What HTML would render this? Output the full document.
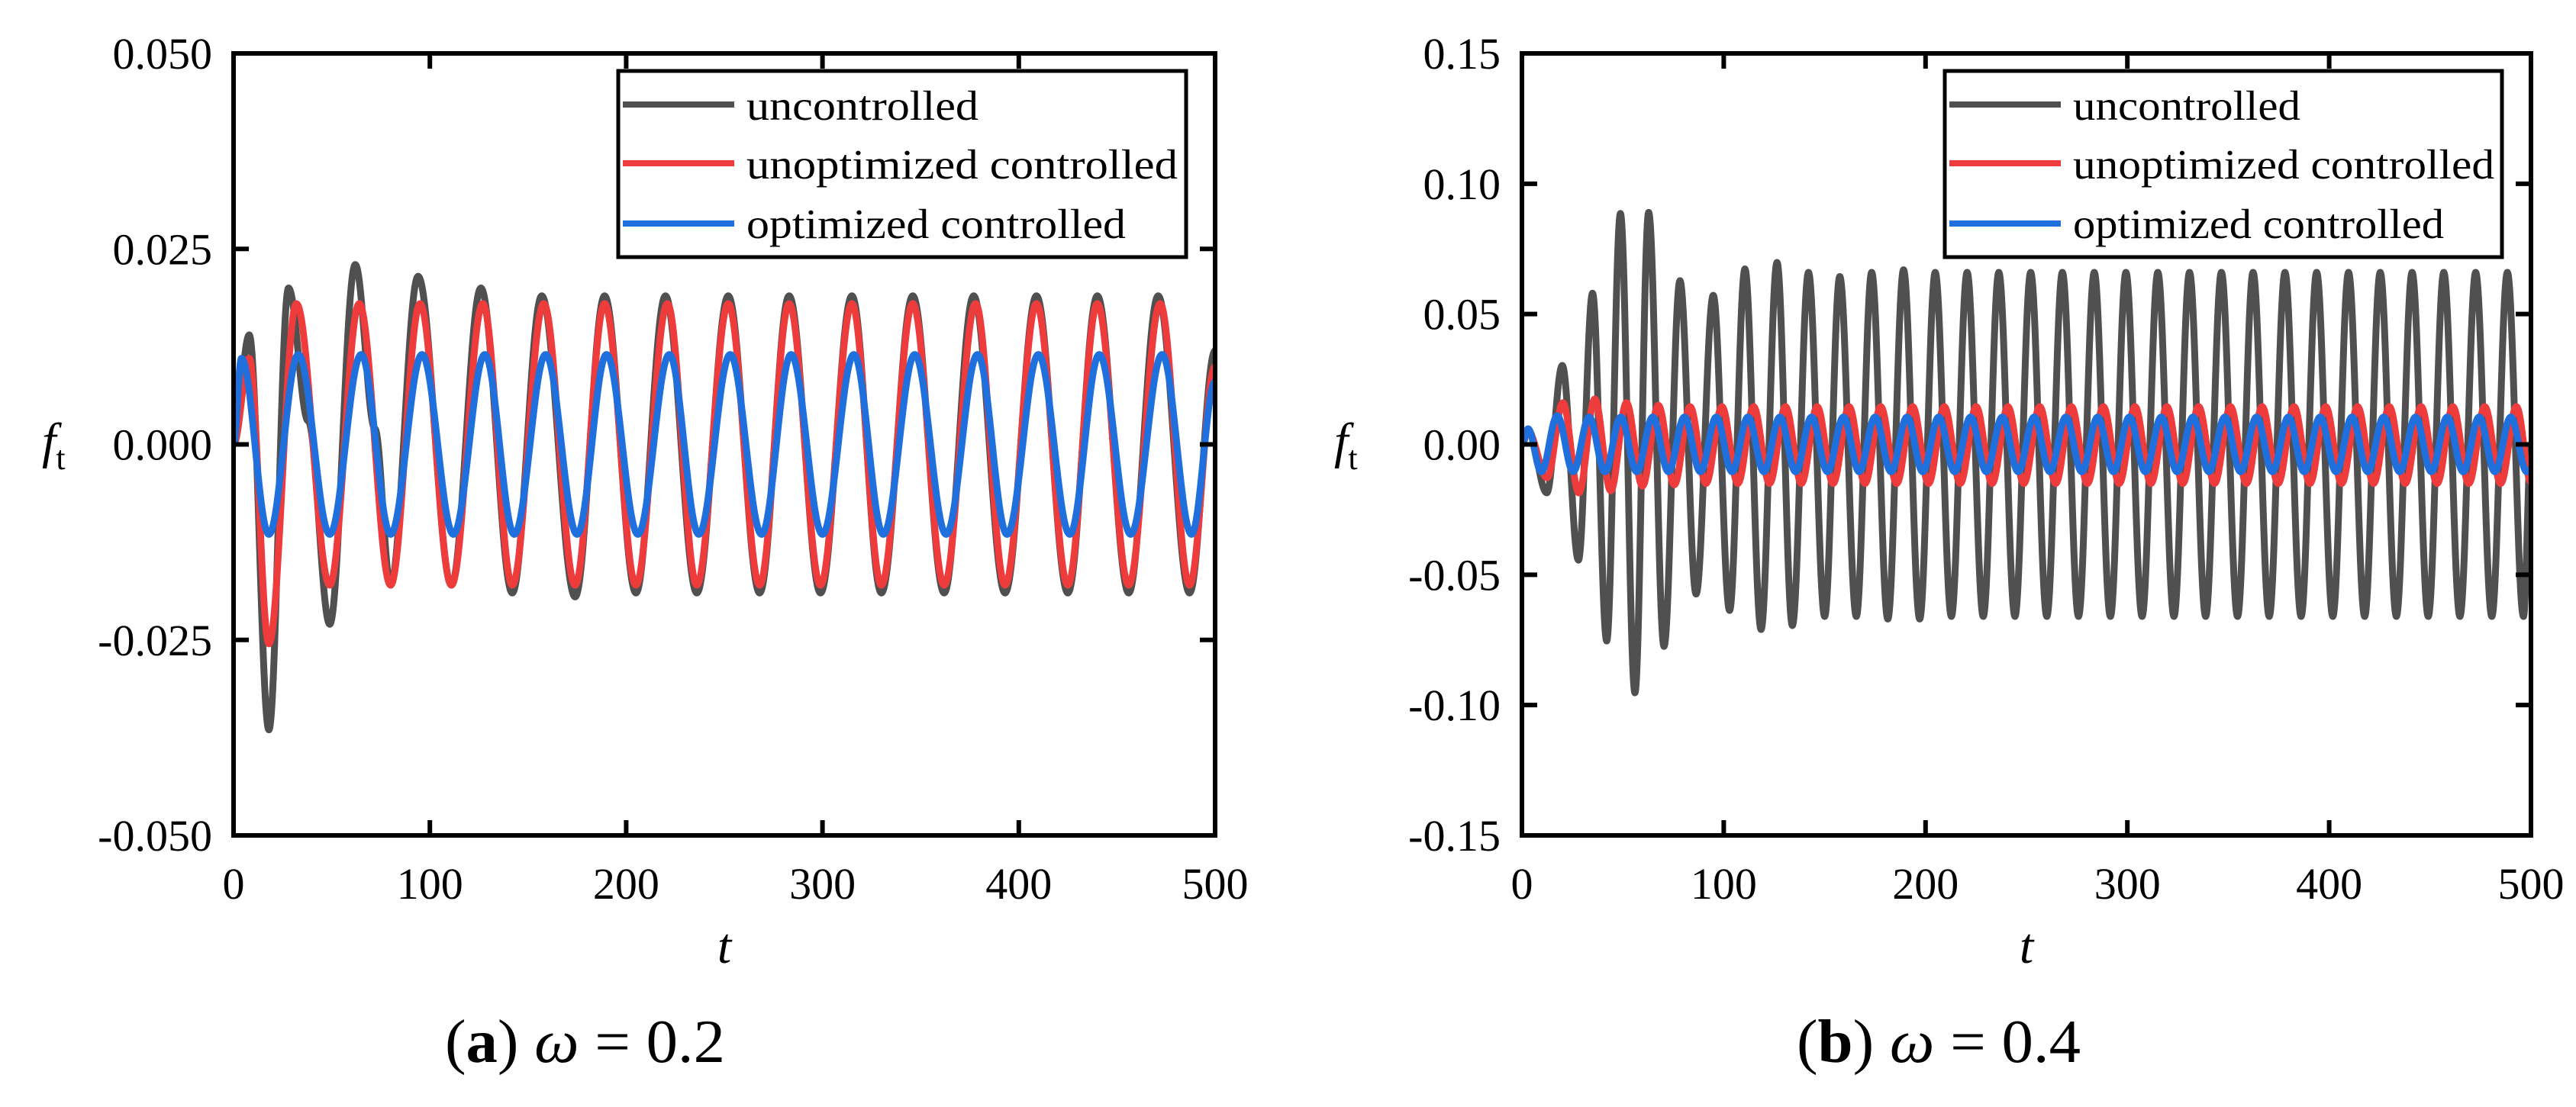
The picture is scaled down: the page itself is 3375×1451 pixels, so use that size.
<!DOCTYPE html>
<html><head><meta charset="utf-8"><title>f_t response</title>
<style>
html,body{margin:0;padding:0;background:#fff;}
svg{display:block;}
text{font-family:"Liberation Serif",serif;fill:#000;}
</style></head>
<body>
<svg id="fig" width="3375" height="1451" viewBox="0 0 3375 1451" xmlns="http://www.w3.org/2000/svg">
<rect width="3375" height="1451" fill="#fff"/>
<g id="panelA"></g>
<g id="panelB"></g>
</svg>
<script>
// ---------- Panel (a) omega = 0.2 data ----------
const aXTicks = [0,100,200,300,400,500];
const aYTicks = [0.050,0.025,0.000,-0.025,-0.050];
const aYTickLabels = ["0.050","0.025","0.000","-0.025","-0.050"];
const aUncT = [0,8,18,28,38,49,62,72,80,94,111,126,142,157,174,189,205,220,236,252,268,283,299,315,330,346,362,377,393,409,425,440,456,471,487,500];
const aUncV = [0,0.014,-0.0365,0.020,0.003,-0.023,0.023,0.002,-0.018,0.0215,-0.018,0.020,-0.019,0.019,-0.0195,0.019,-0.019,0.019,-0.019,0.019,-0.019,0.019,-0.019,0.019,-0.019,0.019,-0.019,0.019,-0.019,0.019,-0.019,0.019,-0.019,0.019,-0.019,0.012];
const aUnoT = [0,8,18,32,49,64,80,95,111,127,142,158,174,189,205,221,236,252,268,283,299,315,330,346,362,378,393,409,425,440,456,472,487,500];
const aUnoV = [0,0.011,-0.0255,0.018,-0.018,0.018,-0.018,0.018,-0.018,0.018,-0.018,0.018,-0.018,0.018,-0.018,0.018,-0.018,0.018,-0.018,0.018,-0.018,0.018,-0.018,0.018,-0.018,0.018,-0.018,0.018,-0.018,0.018,-0.018,0.018,-0.018,0.010];
const aOptT = [0,4,18,33,49,65,80,96,112,128,143,159,175,190,206,222,237,253,269,284,300,316,331,347,363,379,394,410,426,441,457,473,488,500];
const aOptV = [0,0.011,-0.0115,0.0115,-0.0115,0.0115,-0.0115,0.0115,-0.0115,0.0115,-0.0115,0.0115,-0.0115,0.0115,-0.0115,0.0115,-0.0115,0.0115,-0.0115,0.0115,-0.0115,0.0115,-0.0115,0.0115,-0.0115,0.0115,-0.0115,0.0115,-0.0115,0.0115,-0.0115,0.0115,-0.0115,0.008];

// ---------- Panel (b) omega = 0.4 data ----------
const bXTicks = [0,100,200,300,400,500];
const bYTicks = [0.15,0.10,0.05,0.00,-0.05,-0.10,-0.15];
const bYTickLabels = ["0.15","0.10","0.05","0.00","-0.05","-0.10","-0.15"];
const bUncT = [0,3.2,12.3,20,28,35,42,48.8,56,62.8,70.4,78.3,86.3,94.8,102.9,110.5,118.5,126.4,134,142,150,157.5,165.7,173.3,181.3,189.1,197.1,204.8,212.8,220.6,228.6,236.3,244.3,252.1,260.1,267.8,275.8,283.6,291.6,299.3,307.3,315.1,323.1,330.8,338.8,346.6,354.6,362.3,370.3,378.1,386.1,393.8,401.8,409.6,417.6,425.3,433.3,441.1,449.1,456.8,464.8,472.6,480.6,488.3,496.3,500];
const bUncV = [0,0.0054,-0.0186,0.0303,-0.0444,0.058,-0.0754,0.0886,-0.0953,0.089,-0.0775,0.0628,-0.0574,0.0572,-0.0637,0.0673,-0.071,0.0698,-0.0695,0.066,-0.066,0.0644,-0.066,0.066,-0.067,0.067,-0.067,0.066,-0.066,0.066,-0.066,0.066,-0.066,0.066,-0.066,0.066,-0.066,0.066,-0.066,0.066,-0.066,0.066,-0.066,0.066,-0.066,0.066,-0.066,0.066,-0.066,0.066,-0.066,0.066,-0.066,0.066,-0.066,0.066,-0.066,0.066,-0.066,0.066,-0.066,0.066,-0.066,0.066,-0.066,0.0];
const bUnoT = [0,3,12.5,20.3,28.2,36.1,44.0,51.8,59.7,67.6,75.5,83.3,91.2,99.1,107.0,114.8,122.7,130.6,138.5,146.3,154.2,162.1,170.0,177.8,185.7,193.6,201.5,209.3,217.2,225.1,233.0,240.8,248.7,256.6,264.5,272.3,280.2,288.1,296.0,303.8,311.7,319.6,327.5,335.3,343.2,351.1,359.0,366.8,374.7,382.6,390.5,398.3,406.2,414.1,422.0,429.8,437.7,445.6,453.5,461.3,469.2,477.1,485.0,492.8,500];
const bUnoV = [0,0.005,-0.0128,0.016,-0.0186,0.0174,-0.0178,0.016,-0.016,0.015,-0.0155,0.0145,-0.015,0.0145,-0.015,0.0145,-0.015,0.0145,-0.015,0.0145,-0.015,0.0145,-0.015,0.0145,-0.015,0.0145,-0.015,0.0145,-0.015,0.0145,-0.015,0.0145,-0.015,0.0145,-0.015,0.0145,-0.015,0.0145,-0.015,0.0145,-0.015,0.0145,-0.015,0.0145,-0.015,0.0145,-0.015,0.0145,-0.015,0.0145,-0.015,0.0145,-0.015,0.0145,-0.015,0.0145,-0.015,0.0145,-0.015,0.0145,-0.015,0.0145,-0.015,0.0145,-0.0145];
const bOptT = [0,3,9.6,17.5,25.4,33.3,41.1,49.0,56.9,64.8,72.6,80.5,88.4,96.3,104.1,112.0,119.9,127.8,135.6,143.5,151.4,159.3,167.1,175.0,182.9,190.8,198.6,206.5,214.4,222.3,230.1,238.0,245.9,253.8,261.6,269.5,277.4,285.3,293.1,301.0,308.9,316.8,324.6,332.5,340.4,348.3,356.1,364.0,371.9,379.8,387.6,395.5,403.4,411.3,419.1,427.0,434.9,442.8,450.6,458.5,466.4,474.3,482.1,490.0,497.9,500];
const bOptV = [0,0.006,-0.0105,0.011,-0.0105,0.0105,-0.0105,0.0105,-0.0105,0.0105,-0.0105,0.0105,-0.0105,0.0105,-0.0105,0.0105,-0.0105,0.0105,-0.0105,0.0105,-0.0105,0.0105,-0.0105,0.0105,-0.0105,0.0105,-0.0105,0.0105,-0.0105,0.0105,-0.0105,0.0105,-0.0105,0.0105,-0.0105,0.0105,-0.0105,0.0105,-0.0105,0.0105,-0.0105,0.0105,-0.0105,0.0105,-0.0105,0.0105,-0.0105,0.0105,-0.0105,0.0105,-0.0105,0.0105,-0.0105,0.0105,-0.0105,0.0105,-0.0105,0.0105,-0.0105,0.0105,-0.0105,0.0105,-0.0105,0.0105,-0.0105,-0.0095];

const legendLabels = ["uncontrolled","unoptimized controlled","optimized controlled"];
const COLORS = ["#505050","#ee3b3b","#1f6fdc"];
const NS = "http://www.w3.org/2000/svg";

function mk(tag, attrs, parent){
  const e = document.createElementNS(NS, tag);
  for (const k in attrs) e.setAttribute(k, attrs[k]);
  if (parent) parent.appendChild(e);
  return e;
}

function drawPanel(g, cfg){
  const L=cfg.left, R=cfg.right, T=70, B=1095;
  const xs = t => L + (t - 0) / 500 * (R - L);
  const ys = v => T + (cfg.ymax - v) / (cfg.ymax - cfg.ymin) * (B - T);

  const defs = mk("defs", {}, g);
  const cp = mk("clipPath", {id:cfg.id+"clip"}, defs);
  mk("rect", {x:L, y:T-40, width:R-L, height:B-T+80}, cp);

  const series = [[cfg.uT,cfg.uV,"uncontrolled-line"],[cfg.nT,cfg.nV,"unoptimized-controlled-line"],[cfg.oT,cfg.oV,"optimized-controlled-line"]];
  series.forEach((s, i) => {
    const T_ = s[0], V_ = s[1];
    let d = "M" + xs(T_[0]).toFixed(2) + "," + ys(V_[0]).toFixed(2);
    for (let j=1;j<T_.length;j++){
      const dt = T_[j]-T_[j-1];
      const c1 = xs(T_[j-1]+dt*0.364), c2 = xs(T_[j]-dt*0.364);
      d += " C" + c1.toFixed(2) + "," + ys(V_[j-1]).toFixed(2) + " " + c2.toFixed(2) + "," + ys(V_[j]).toFixed(2) + " " + xs(T_[j]).toFixed(2) + "," + ys(V_[j]).toFixed(2);
    }
    const p = mk("path", {d:d, fill:"none", stroke:COLORS[i], "stroke-width":9, "stroke-linejoin":"round", "clip-path":"url(#"+cfg.id+"clip)"}, g);
    
    
  });

  const fr = mk("rect", {x:L, y:T, width:R-L, height:B-T, fill:"none", stroke:"#000", "stroke-width":6}, g);
  
  

  cfg.xticks.forEach(t => {
    const x = xs(t);
    const tk = mk("path", {d:`M${x},${B} v-20 M${x},${T} v20`, stroke:"#000", "stroke-width":6}, g);
    
    
    const lb = mk("text", {x:x, y:1178, "font-size":58, "text-anchor":"middle"}, g);
    lb.textContent = String(t);
    
    
  });
  cfg.yticks.forEach((v, i) => {
    const y = ys(v);
    const tk = mk("path", {d:`M${L},${y} h20 M${R},${y} h-20`, stroke:"#000", "stroke-width":6}, g);
    
    
    const lb = mk("text", {x:L-28, y:y+20, "font-size":58, "text-anchor":"end"}, g);
    lb.textContent = cfg.ylabels[i];
    
    
  });

  const yt = mk("text", {x:cfg.ytx, y:600, "font-size":66, "font-style":"italic"}, g);
  yt.innerHTML = 'f<tspan font-size="44" font-style="normal" dy="15">t</tspan>';
  
  
  const xt = mk("text", {x:(L+R)/2, y:1262, "font-size":66, "font-style":"italic", "text-anchor":"middle"}, g);
  xt.textContent = "t";
  
  

  const lg = mk("g", {}, g);
  
  
  mk("rect", {x:cfg.lgL, y:93, width:cfg.lgR-cfg.lgL, height:244, fill:"#fff", stroke:"#000", "stroke-width":5}, lg);
  const rowsY = [137, 214, 293];
  const textY = [157, 234, 312];
  legendLabels.forEach((lab, i) => {
    const en = mk("g", {}, lg);
    
    
    mk("line", {x1:cfg.lgL+6, x2:cfg.lgL+152, y1:rowsY[i], y2:rowsY[i], stroke:COLORS[i], "stroke-width":8}, en);
    const tx = mk("text", {x:cfg.lgL+168, y:textY[i], "font-size":55, textLength:cfg.lgW[i], lengthAdjust:"spacingAndGlyphs"}, en);
    tx.textContent = lab;
  });

  const cap = mk("text", {x:cfg.capX, y:1392, "font-size":80, textLength:cfg.capW, lengthAdjust:"spacingAndGlyphs"}, g);
  cap.innerHTML = '(<tspan font-weight="bold">' + cfg.capL + '</tspan>)  <tspan font-style="italic">ω</tspan> = ' + cfg.capV;
  
  
}

drawPanel(document.getElementById("panelA"), {
  id:"a", left:306, right:1592, ymin:-0.05, ymax:0.05,
  xticks:aXTicks, yticks:aYTicks, ylabels:aYTickLabels,
  uT:aUncT, uV:aUncV, nT:aUnoT, nV:aUnoV, oT:aOptT, oV:aOptV,
  ytx:55, lgL:810, lgR:1554, lgW:[304,565,497],
  capX:583, capW:367, capL:"a", capV:"0.2"
});
drawPanel(document.getElementById("panelB"), {
  id:"b", left:1994, right:3316, ymin:-0.15, ymax:0.15,
  xticks:bXTicks, yticks:bYTicks, ylabels:bYTickLabels,
  uT:bUncT, uV:bUncV, nT:bUnoT, nV:bUnoV, oT:bOptT, oV:bOptV,
  ytx:1748, lgL:2548, lgR:3278, lgW:[298,552,486],
  capX:2354, capW:372, capL:"b", capV:"0.4"
});
</script>
</body></html>
